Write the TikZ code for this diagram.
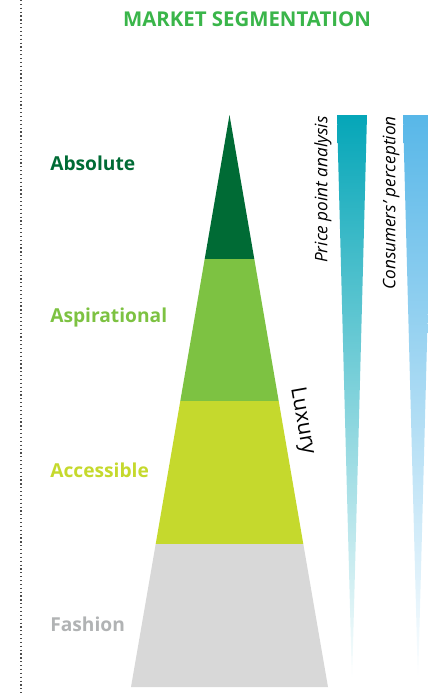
\documentclass[tikz,border=0pt]{standalone}
\usepackage{fontspec}
\setmainfont{Open Sans}
\definecolor{titlegreen}{HTML}{3AB54A}
\definecolor{darkgreen}{HTML}{006B35}
\definecolor{lightgreen}{HTML}{7DC242}
\definecolor{limegreen}{HTML}{C5D92D}
\definecolor{bandgray}{HTML}{D8D8D8}
\definecolor{labelgray}{HTML}{B1B3B4}
\definecolor{teal}{HTML}{05A6B8}
\definecolor{skyblue}{HTML}{58B7E8}
\begin{document}
\begin{tikzpicture}[
        x=0.75pt, y=-0.75pt,
        every node/.style={inner sep=0pt, align=left},
        seglabel/.style={anchor=west, font=\fontsize{14.4}{17}\selectfont\bfseries},
        sidelabel/.style={rotate=90, anchor=east, font=\fontsize{12.9}{15}\selectfont\itshape},
        wedge/.style={bottom color=white}
    ]
        \useasboundingbox (0,0) rectangle (428,694);
        \draw [dotted, line width=0.9pt, black!70] (21,0) -- (21,694);

        \node (title) at (247,19) [font=\fontsize{15.3}{18}\selectfont\bfseries, text=titlegreen] {MARKET SEGMENTATION};

        % pyramid bands
        \fill [darkgreen] (229.5,115) -- (254.3,259) -- (204.7,259) -- cycle;
        \fill [lightgreen] (204.7,259) -- (254.3,259) -- (278.7,401) -- (180.3,401) -- cycle;
        \fill [limegreen] (180.3,401) -- (278.7,401) -- (303.3,544) -- (155.7,544) -- cycle;
        \fill [bandgray] (155.7,544) -- (303.3,544) -- (328,687) -- (131,687) -- cycle;

        \node (1) at (50,163) [seglabel, text=darkgreen] {Absolute};
        \node (2) at (50,318) [seglabel, text=lightgreen] {Aspirational};
        \node (3) at (50,470) [seglabel, text=limegreen] {Accessible};
        \node (4) at (50,624) [seglabel, text=labelgray] {Fashion};

        \node (lux) at (302,421) [rotate=-80, font=\fontsize{16}{19}\selectfont] {Luxury};

        % gradient wedges
        \shade [wedge, top color=teal] (337,115) -- (367,115) -- (352,684) -- cycle;
        \shade [wedge, top color=skyblue] (403,115) -- (433,115) -- (418,684) -- cycle;

        \node (price) at (323,116) [sidelabel] {Price point analysis};
        \node (cons) at (391,116) [sidelabel] {Consumers’ perception};
    \end{tikzpicture}
\end{document}
